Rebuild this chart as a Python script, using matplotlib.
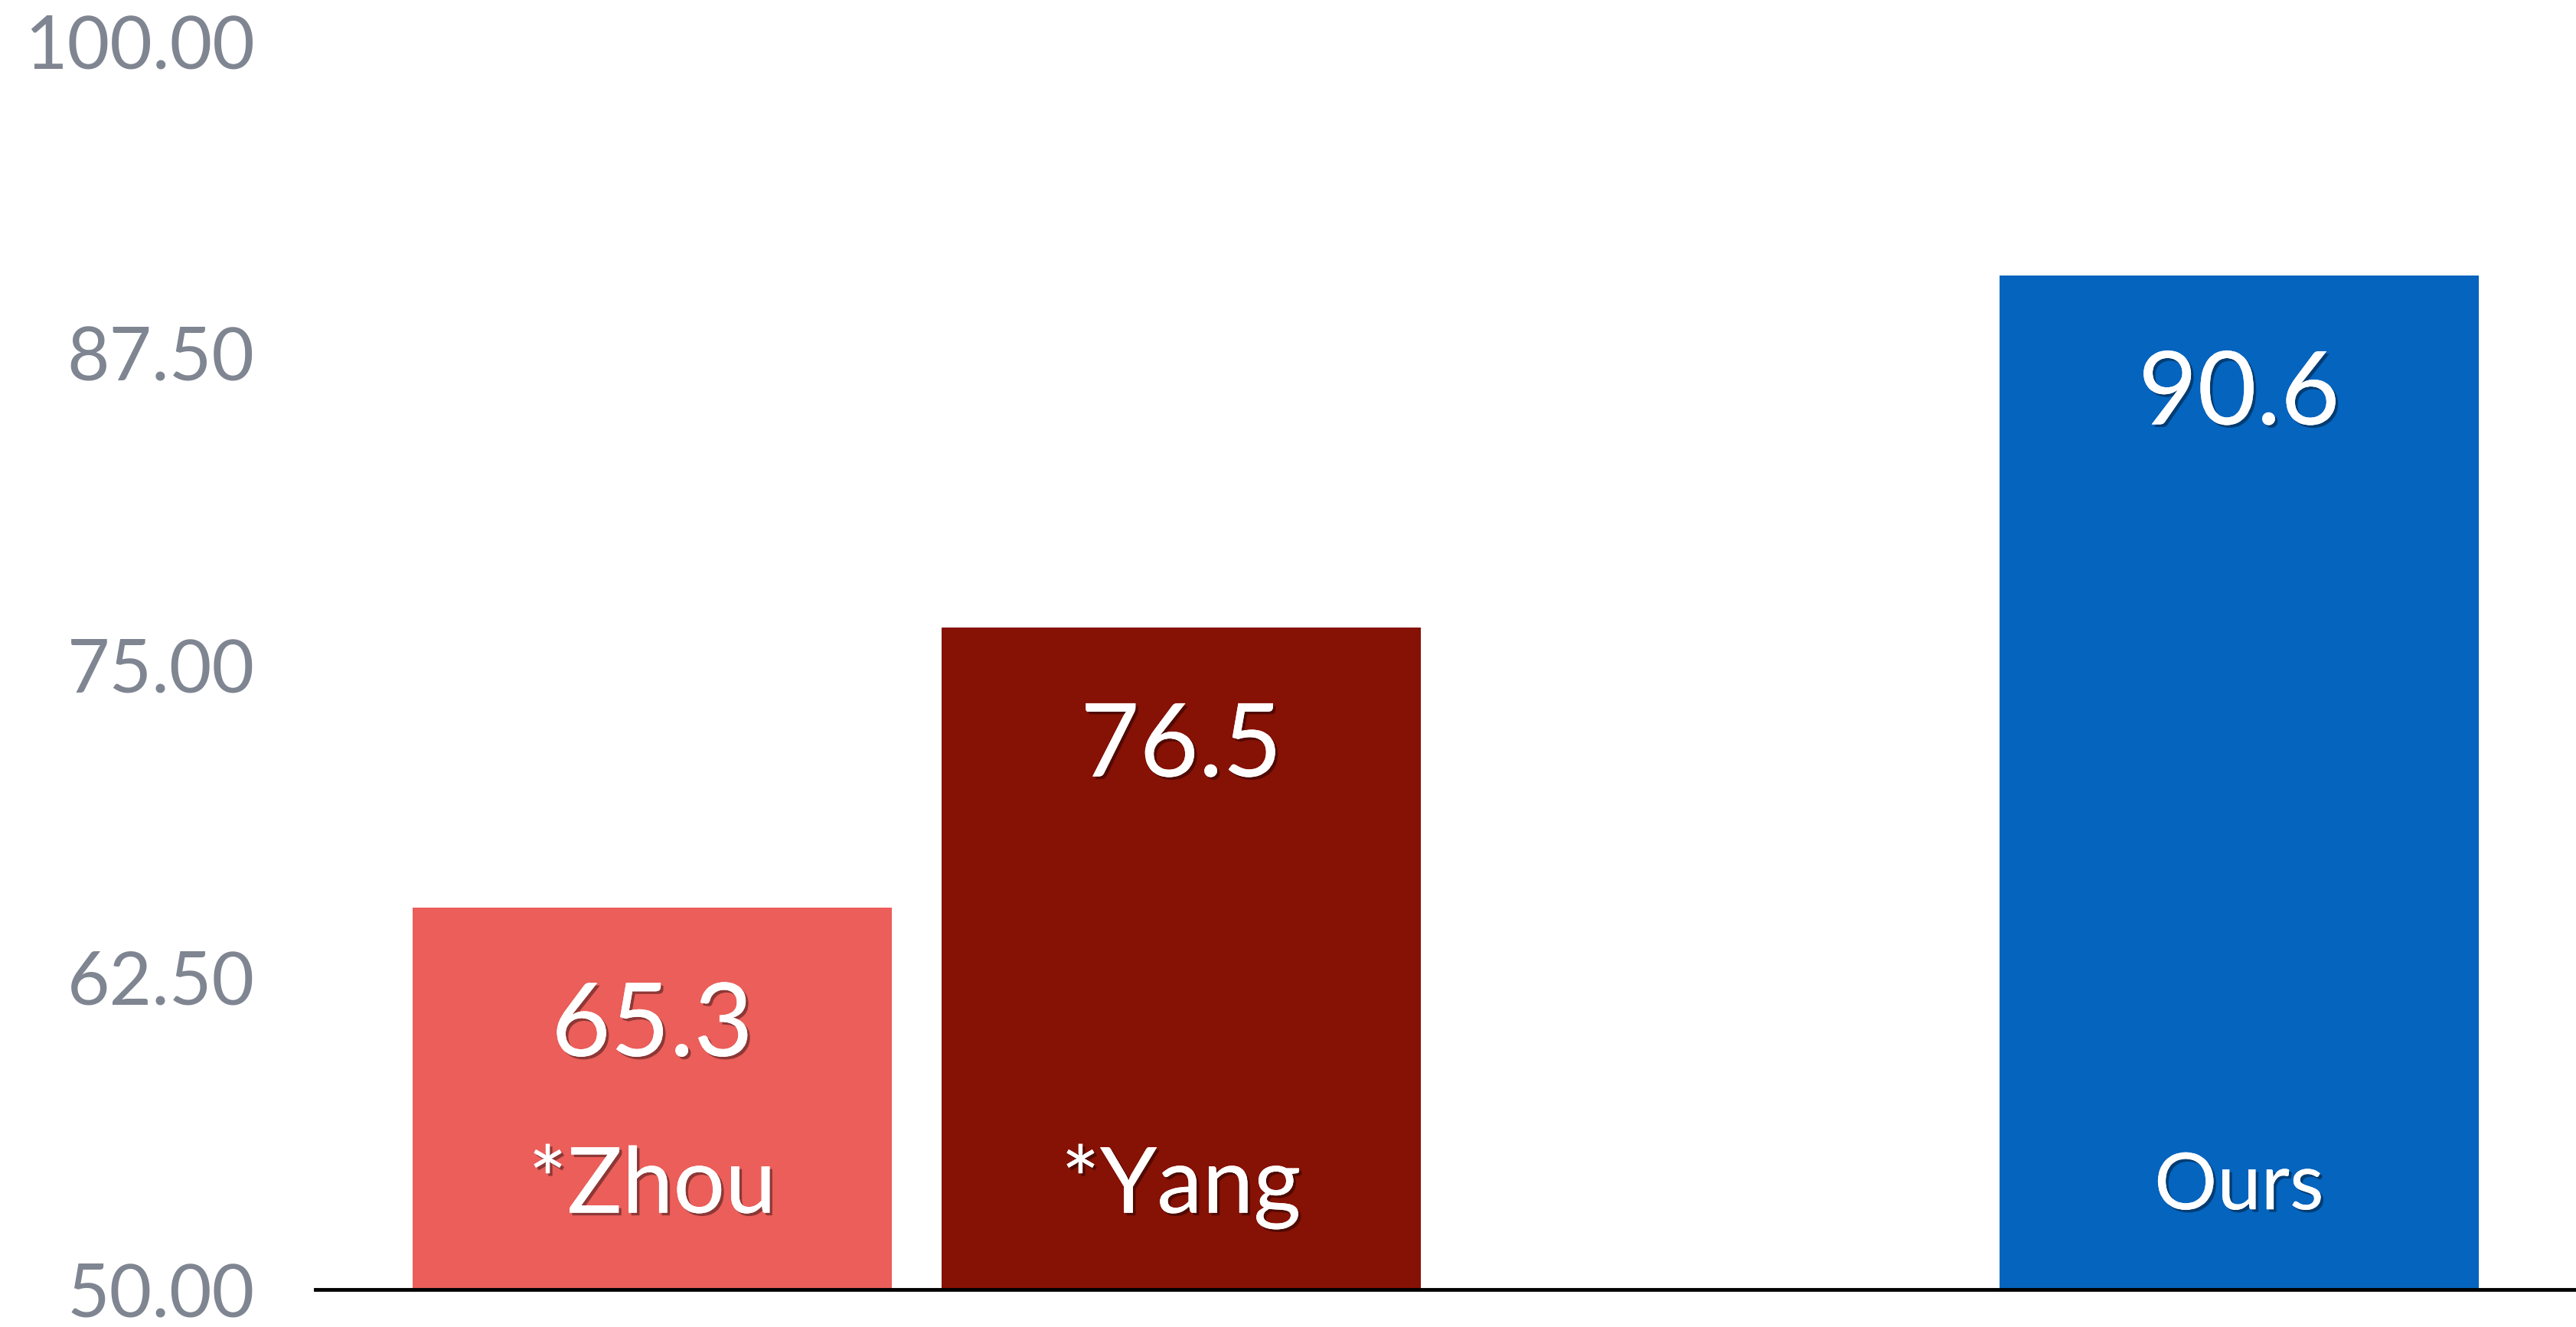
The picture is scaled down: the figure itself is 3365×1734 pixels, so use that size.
import numpy as np
import matplotlib.pyplot as plt
import matplotlib.patheffects as pe

# data (blank slot keeps the gap before "Ours")
categories = ['*Zhou', '*Yang', '', 'Ours']
scores = [65.3, 76.5, np.nan, 90.6]
bar_colors = ['#EB5E5A', '#861105', '#FFFFFF', '#0464BE']
name_sizes = [86, 86, 0, 74]
y_ticks = [50.0, 62.5, 75.0, 87.5, 100.0]

plt.rcParams['font.family'] = ['Lato', 'DejaVu Sans']

fig = plt.figure(figsize=(33.65, 17.34), dpi=100)
ax = fig.add_axes([0.1224, 0.0283, 0.8776, 0.9407])

shadow = [pe.withSimplePatchShadow(offset=(2.5, -2.5), shadow_rgbFace='black', alpha=0.4), pe.Normal()]

x = np.arange(len(categories))
for xi, name, val, col, fs in zip(x, categories, scores, bar_colors, name_sizes):
    if np.isnan(val):
        continue
    ax.bar(xi, val - 50, bottom=50, width=0.907, color=col, zorder=2)
    ax.text(xi, val - 4.8, f'{val:.1f}', ha='center', va='center', color='white',
            fontsize=96, path_effects=shadow, zorder=3)
    ax.text(xi, 54.1, name, ha='center', va='center', color='white',
            fontsize=fs, path_effects=shadow, zorder=3)

ax.set_xlim(-0.637, 3.637)
ax.set_ylim(50, 100)
ax.set_yticks(y_ticks)
ax.set_yticklabels([f'{t:.2f}' for t in y_ticks])
ax.tick_params(axis='y', length=0, pad=57, labelsize=69, labelcolor='#7F8591')
ax.set_xticks([])
for side in ['left', 'right', 'top']:
    ax.spines[side].set_visible(False)
ax.spines['bottom'].set_linewidth(3.5)
ax.spines['bottom'].set_color('black')
ax.spines['bottom'].set_zorder(4)

fig.savefig('out.png', dpi=100)
